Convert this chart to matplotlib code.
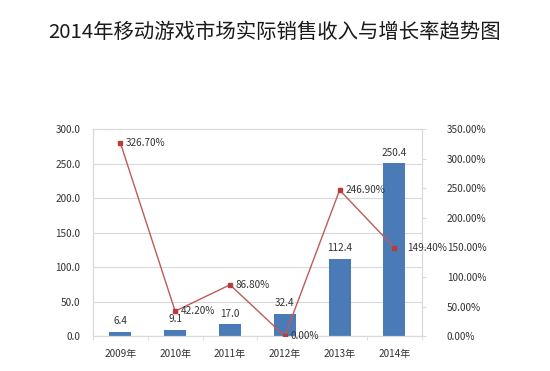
import matplotlib
matplotlib.use("Agg")
import matplotlib.pyplot as plt
import numpy as np

plt.rcParams['font.family'] = ['Noto Sans CJK SC', 'DejaVu Sans']

years = ["2009年", "2010年", "2011年", "2012年", "2013年", "2014年"]
revenue = [6.4, 9.1, 17.0, 32.4, 112.4, 250.4]
growth = [326.70, 42.20, 86.80, 0.00, 246.90, 149.40]
left_ticks = [0, 50, 100, 150, 200, 250, 300]
right_ticks = [0, 50, 100, 150, 200, 250, 300, 350]

bar_color = "#4a7bb7"
line_color = "#bf5a5a"
marker_color = "#b83c3a"
grid_color = "#d9d9d9"
text_color = "#333333"

fig = plt.figure(figsize=(5.5, 3.71), dpi=100)
fig.patch.set_facecolor("white")
ax = fig.add_axes([0.169, 0.094, 0.598, 0.558])
x = np.arange(len(years))

ax.bar(x, revenue, width=0.4, color=bar_color, zorder=2)
ax.set_ylim(0, 300)
ax.set_xlim(-0.5, len(years) - 0.5)
ax.set_yticks(left_ticks)
ax.set_yticklabels([f"{v:.1f}" for v in left_ticks], fontsize=7.2, color=text_color)
ax.set_xticks(x)
ax.set_xticklabels(years, fontsize=7.2, color=text_color)
ax.tick_params(axis='y', length=0, pad=9)
ax.tick_params(axis='x', length=0, pad=9)
ax.set_xticks(np.arange(-0.5, len(years), 1), minor=True)
ax.tick_params(axis='x', which='minor', length=3, color=grid_color, direction='out')
ax.yaxis.grid(True, color=grid_color, linewidth=0.8, zorder=0)
ax.set_axisbelow(True)
for s in ["left", "bottom", "right", "top"]:
    ax.spines[s].set_color(grid_color)
    ax.spines[s].set_linewidth(0.8)

for xi, v in zip(x, revenue):
    ax.text(xi, v + 8, f"{v:.1f}", ha='center', va='bottom', fontsize=7.2, color=text_color)

ax2 = ax.twinx()
ax2.set_ylim(0, 350)
ax2.plot(x, growth, color=line_color, linewidth=1.0, marker='s', markersize=3.5,
         markerfacecolor=marker_color, markeredgecolor=marker_color, zorder=3)
ax2.set_yticks(right_ticks)
ax2.set_yticklabels([f"{v:.2f}%" for v in right_ticks], fontsize=7.2, color=text_color)
ax2.tick_params(axis='y', length=3, color=grid_color, pad=15)
for s in ["left", "bottom", "right", "top"]:
    ax2.spines[s].set_color(grid_color)
    ax2.spines[s].set_linewidth(0.8)

offsets = [(4, 0), (4, 0), (4, 0), (4, 0), (4, 0), (9, 0)]
for xi, g, (dx, dy) in zip(x, growth, offsets):
    ax2.annotate(f"{g:.2f}%", (xi, g), xytext=(dx, dy), textcoords='offset points',
                 ha='left', va='center', fontsize=7.2, color=text_color)

fig.text(0.5, 0.913, "2014年移动游戏市场实际销售收入与增长率趋势图", ha='center', va='center',
         fontsize=14.7, color="#1a1a1a")

fig.savefig("out.png", dpi=100)
